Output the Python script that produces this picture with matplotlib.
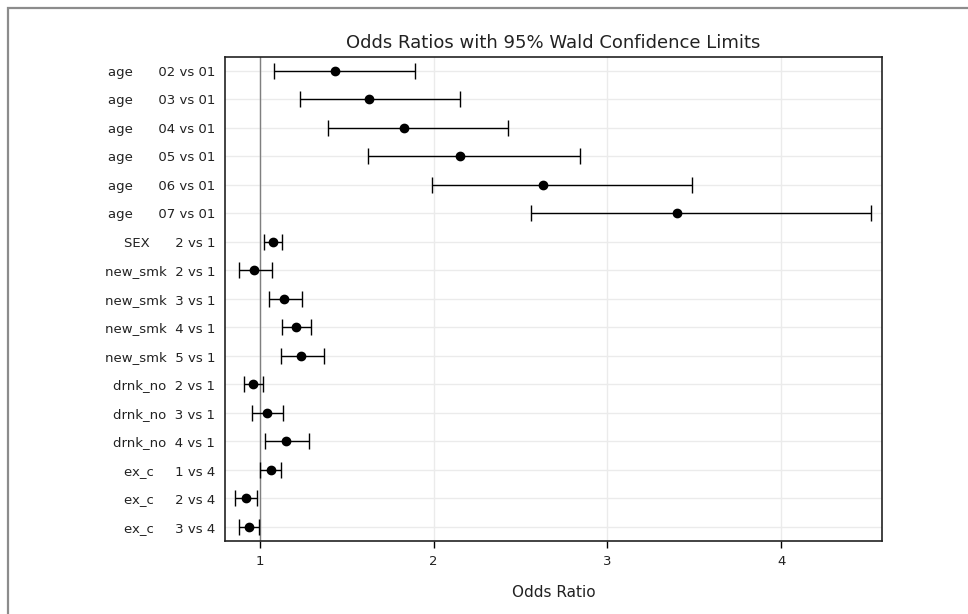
import matplotlib
matplotlib.use("Agg")
import matplotlib.pyplot as plt
from matplotlib.patches import Rectangle

plt.rcParams['font.family'] = ['DejaVu Sans']

# Effects and their comparison levels
effects = ["age", "age", "age", "age", "age", "age", "SEX",
           "new_smk", "new_smk", "new_smk", "new_smk",
           "drnk_no", "drnk_no", "drnk_no", "ex_c", "ex_c", "ex_c"]
comparisons = ["02 vs 01", "03 vs 01", "04 vs 01", "05 vs 01", "06 vs 01",
               "07 vs 01", "2 vs 1", "2 vs 1", "3 vs 1", "4 vs 1", "5 vs 1",
               "2 vs 1", "3 vs 1", "4 vs 1", "1 vs 4", "2 vs 4", "3 vs 4"]

# Point estimates and 95% Wald confidence limits
odds_ratio = [1.43, 1.63, 1.83, 2.15, 2.63, 3.40, 1.073,
              0.965, 1.140, 1.207, 1.236,
              0.958, 1.040, 1.150, 1.062, 0.918, 0.937]
lower_cl = [1.08, 1.23, 1.39, 1.62, 1.99, 2.56, 1.025,
            0.879, 1.054, 1.127, 1.119,
            0.908, 0.952, 1.031, 1.000, 0.856, 0.877]
upper_cl = [1.89, 2.15, 2.43, 2.84, 3.49, 4.52, 1.127,
            1.067, 1.242, 1.292, 1.368,
            1.017, 1.130, 1.280, 1.121, 0.985, 0.993]

x_ticks = [1, 2, 3, 4]

labels = [f"{e.ljust(8)} {c}" for e, c in zip(effects, comparisons)]
n = len(labels)
ypos = list(range(n))

fig = plt.figure(figsize=(9.68, 6.14), dpi=100)
ax = fig.add_axes([225 / 968, 1 - 541 / 614, (882 - 225) / 968, (541 - 56.7) / 614])

# grey page border
fig.patches.append(Rectangle((8 / 968, -0.1), 1.2, 1 - 8 / 614 + 0.1,
                             transform=fig.transFigure, fill=False,
                             edgecolor="#8c8c8c", linewidth=1.6, zorder=0))

ax.set_axisbelow(True)
ax.grid(True, color="#ebebeb", linewidth=1.0)

ax.axvline(1, color="#7f7f7f", linewidth=1.0, zorder=1)

xerr = [[o - l for o, l in zip(odds_ratio, lower_cl)],
        [u - o for o, u in zip(odds_ratio, upper_cl)]]
ax.errorbar(odds_ratio, ypos, xerr=xerr, fmt="o", color="black",
            ecolor="black", elinewidth=1.0, capsize=5.5, capthick=1.0,
            markersize=6, zorder=3)

ax.set_xlim(0.7985, 4.581)
ax.set_ylim(n - 0.5, -0.5)
ax.set_xticks(x_ticks)
ax.set_xticklabels([str(t) for t in x_ticks])
ax.set_yticks(ypos)
ax.set_yticklabels(labels)

ax.tick_params(axis="y", length=0, pad=7, labelsize=9.5, labelcolor="#222222")
ax.tick_params(axis="x", length=5, width=1.0, pad=5, labelsize=9.5,
               labelcolor="#222222")

for s in ax.spines.values():
    s.set_linewidth(1.2)
    s.set_color("#222222")

ax.set_xlabel("Odds Ratio", fontsize=11, color="#222222", labelpad=12)
ax.set_title("Odds Ratios with 95% Wald Confidence Limits", fontsize=13,
             color="#222222", pad=6)

fig.savefig("out.png", dpi=100)
